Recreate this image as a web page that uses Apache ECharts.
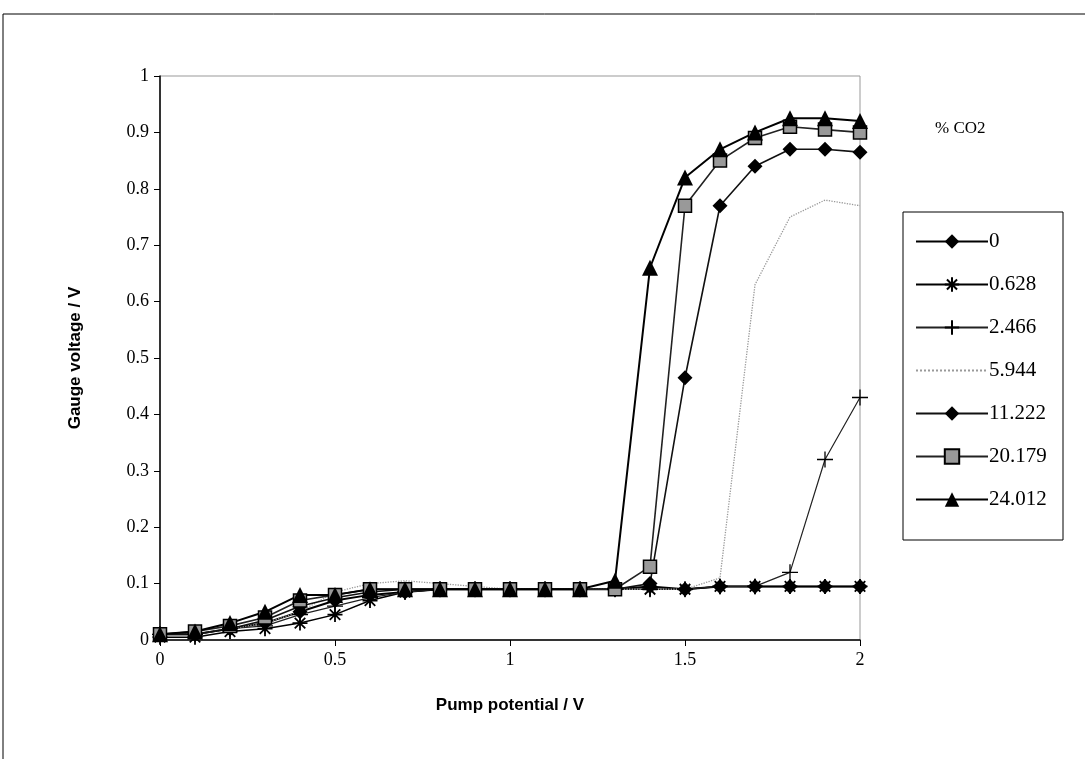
<!DOCTYPE html>
<html><head><meta charset="utf-8">
<script src="https://cdn.jsdelivr.net/npm/echarts@6/dist/echarts.min.js"></script>
<style>html,body{margin:0;padding:0;background:#fff}#c{width:1085px;height:759px}</style>
</head><body><div id="c"></div>
<script>
const xVals = [0,0.1,0.2,0.3,0.4,0.5,0.6,0.7,0.8,0.9,1.0,1.1,1.2,1.3,1.4,1.5,1.6,1.7,1.8,1.9,2.0];
const seriesNames = ['0','0.628','2.466','5.944','11.222','20.179','24.012'];
const s0      = [0.01,0.01,0.02,0.03,0.05,0.07,0.08,0.085,0.09,0.09,0.09,0.09,0.09,0.09,0.095,0.09,0.095,0.095,0.095,0.095,0.095];
const s0628   = [0.005,0.005,0.015,0.02,0.03,0.045,0.07,0.085,0.09,0.09,0.09,0.09,0.09,0.09,0.09,0.09,0.095,0.095,0.095,0.095,0.095];
const s2466   = [0.01,0.01,0.02,0.025,0.045,0.06,0.075,0.085,0.09,0.09,0.09,0.09,0.09,0.09,0.09,0.09,0.095,0.095,0.12,0.32,0.43];
const s5944   = [0.01,0.01,0.02,0.03,0.05,0.085,0.1,0.105,0.1,0.095,0.09,0.09,0.09,0.09,0.09,0.09,0.11,0.63,0.75,0.78,0.77];
const s11222  = [0.01,0.01,0.02,0.035,0.06,0.075,0.085,0.09,0.09,0.09,0.09,0.09,0.09,0.09,0.1,0.465,0.77,0.84,0.87,0.87,0.865];
const s20179  = [0.01,0.015,0.025,0.04,0.07,0.08,0.09,0.09,0.09,0.09,0.09,0.09,0.09,0.09,0.13,0.77,0.85,0.89,0.91,0.905,0.9];
const s24012  = [0.01,0.015,0.03,0.05,0.08,0.08,0.09,0.09,0.09,0.09,0.09,0.09,0.09,0.105,0.66,0.82,0.87,0.9,0.925,0.925,0.92];
const xTicks = [0,0.5,1,1.5,2];

const allData = [s0,s0628,s2466,s5944,s11222,s20179,s24012];
const pair = arr => arr.map((v,i)=>[xVals[i], v]);
const ASTER = 'path://M0,-10L0,10M-10,0L10,0M-7,-7L7,7M-7,7L7,-7';
const PLUS = 'path://M0,-10L0,10M-10,0L10,0';
const styles = [
  {symbol:'diamond', size:15, line:{color:'#000',width:2}, item:{color:'#000'}},
  {symbol:ASTER, size:15, line:{color:'#000',width:1.5}, item:{color:'#fff',borderColor:'#000',borderWidth:1.8}},
  {symbol:PLUS, size:16, line:{color:'#222',width:1.2}, item:{color:'#fff',borderColor:'#000',borderWidth:1.3}},
  {symbol:'none', size:3, line:{color:'#999',width:1.3,type:'dotted'}, item:{color:'#aaa'}},
  {symbol:'diamond', size:15, line:{color:'#111',width:1.6}, item:{color:'#000'}},
  {symbol:'rect', size:13, line:{color:'#222',width:1.6}, item:{color:'#999',borderColor:'#000',borderWidth:1.5}},
  {symbol:'triangle', size:16, line:{color:'#000',width:2}, item:{color:'#000'}}
];
const series = seriesNames.map((n,i)=>({
  name:n, type:'line', data:pair(allData[i]), symbol:styles[i].symbol, symbolSize:styles[i].size,
  showAllSymbol:true, lineStyle:styles[i].line, itemStyle:styles[i].item, animation:false, z: 3
}));
const legendData = seriesNames.map(n => n === '5.944'
  ? {name:n, itemStyle:{opacity:0}} : {name:n});

const chart = echarts.init(document.getElementById('c'));
chart.setOption({
  animation:false,
  backgroundColor:'#fff',
  grid:{left:160,right:225,top:76,bottom:119,show:true,borderColor:'#999',borderWidth:1,backgroundColor:'transparent'},
  xAxis:{type:'value',min:0,max:2,interval:0.5,
    name:'Pump potential / V',nameLocation:'middle',nameGap:57,
    nameTextStyle:{fontFamily:'Liberation Sans',fontWeight:'bold',fontSize:17,color:'#000'},
    axisLine:{lineStyle:{color:'#000',width:1.5}},axisTick:{show:true,length:6,lineStyle:{color:'#000'}},
    axisLabel:{fontFamily:'Liberation Serif',fontSize:18,color:'#000',margin:11},
    splitLine:{show:false}},
  yAxis:{type:'value',min:0,max:1,interval:0.1,
    name:'Gauge voltage / V',nameLocation:'middle',nameGap:76,nameRotate:90,
    nameTextStyle:{fontFamily:'Liberation Sans',fontWeight:'bold',fontSize:17,color:'#000'},
    axisLine:{lineStyle:{color:'#000',width:1.5}},axisTick:{show:true,length:6,lineStyle:{color:'#000'}},
    axisLabel:{fontFamily:'Liberation Serif',fontSize:18,color:'#000',margin:11,
      formatter:v=>String(Math.round(v*10)/10)},
    splitLine:{show:false}},
  legend:{orient:'vertical',left:910,top:226,itemWidth:72,itemHeight:18,itemGap:22,
    textStyle:{fontFamily:'Liberation Serif',fontSize:21,color:'#000',padding:[0,0,0,-4]},
    data:legendData},
  graphic:[
    {type:'rect',shape:{x:3,y:14,width:1100,height:760},style:{fill:'none',stroke:'#000',lineWidth:1},silent:true,z:-1},
    {type:'rect',shape:{x:903,y:212,width:160,height:328},style:{fill:'none',stroke:'#000',lineWidth:1},silent:true},
    {type:'text',left:935,top:120,style:{text:'% CO2',font:'17px "Liberation Serif"',fill:'#000'}}
  ],
  series:series
});
</script></body></html>
